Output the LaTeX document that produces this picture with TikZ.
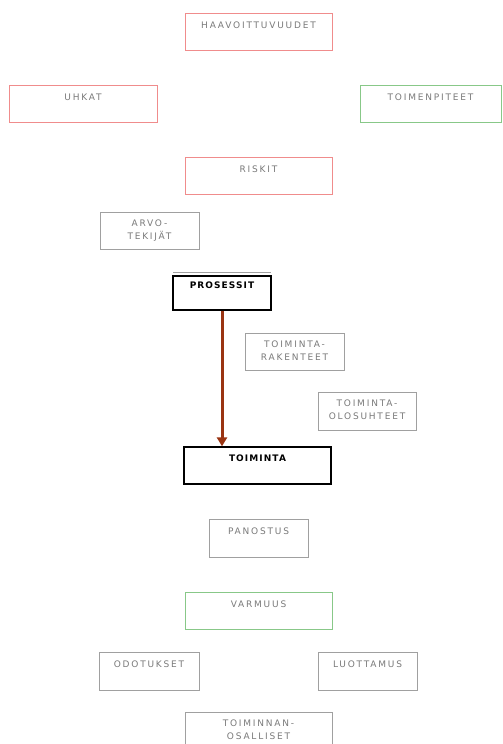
\documentclass[tikz,border=0pt]{standalone}
\usepackage{fontspec}
\setmainfont{DejaVu Sans}[LetterSpace=20]
\newfontfamily\boldf{DejaVu Sans}[LetterSpace=12]
\usetikzlibrary{arrows.meta,calc}
\definecolor{redb}{HTML}{F08C8C}
\definecolor{greenb}{HTML}{88C888}
\definecolor{greyb}{HTML}{A0A0A0}
\definecolor{txtg}{HTML}{7A7A7A}
\definecolor{arrowc}{HTML}{9A3412}
\tikzset{
  bx/.style={draw=#1, line width=0.9pt, rectangle, inner sep=0pt},
  bxk/.style={draw=black, line width=1.3pt, rectangle, inner sep=0pt},
  tx/.style={anchor=north, inner sep=0pt, align=center, text=txtg,
    font=\fontsize{9}{13}\selectfont},
  txb/.style={anchor=north, inner sep=0pt, align=center, text=black,
    font=\boldf\bfseries\fontsize{9}{13}\selectfont},
  conn/.style={draw=arrowc, line width=3pt, -{Triangle[length=9pt,width=10pt]}}
}
\begin{document}
\begin{tikzpicture}[x=1pt,y=-1pt]
\path[fill=white] (0,0) rectangle (503,744);
\useasboundingbox (0,0) rectangle (503,744);
% boxes: corners in pixels
\node[bx=redb, minimum width=147, minimum height=37] (haa) at (258.5,31.5) {};
\node[tx] (haat) at ($(haa.north)+(0,9)$) {HAAVOITTUVUUDET};
\node[bx=redb, minimum width=148, minimum height=37] (uhk) at (83,103.5) {};
\node[tx] (uhkt) at ($(uhk.north)+(0,9)$) {UHKAT};
\node[bx=greenb, minimum width=141, minimum height=37] (toi) at (430.5,103.5) {};
\node[tx] (toit) at ($(toi.north)+(0,9)$) {TOIMENPITEET};
\node[bx=redb, minimum width=147, minimum height=37] (ris) at (258.5,175.5) {};
\node[tx] (rist) at ($(ris.north)+(0,9)$) {RISKIT};
\node[bx=greyb, minimum width=99, minimum height=37] (arv) at (149.5,230.5) {};
\node[tx] (arvt) at ($(arv.north)+(0,8.5)$) {ARVO-\\TEKIJÄT};
% PROSESSIT with grey line above
\draw[greyb, line width=0.9pt] (173,272) -- (271,272);
\node[bxk, fill=white, minimum width=98, minimum height=34] (pro) at (222,293) {};
\node[txb] (prot) at ($(pro.north)+(0,6.5)$) {PROSESSIT};
\node[bx=greyb, minimum width=99, minimum height=37] (rak) at (294.5,351.5) {};
\node[tx] (rakt) at ($(rak.north)+(0,8.5)$) {TOIMINTA-\\RAKENTEET};
\node[bx=greyb, minimum width=98, minimum height=38] (olo) at (367,411) {};
\node[tx] (olot) at ($(olo.north)+(0,8.5)$) {TOIMINTA-\\OLOSUHTEET};
\node[bxk, fill=white, minimum width=147, minimum height=37] (tmi) at (257.5,465.5) {};
\node[txb] (tmit) at ($(tmi.north)+(0,8.5)$) {TOIMINTA};
\node[bx=greyb, minimum width=99, minimum height=38] (pan) at (258.5,538) {};
\node[tx] (pant) at ($(pan.north)+(0,9)$) {PANOSTUS};
\node[bx=greenb, minimum width=147, minimum height=37] (var) at (258.5,610.5) {};
\node[tx] (vart) at ($(var.north)+(0,9)$) {VARMUUS};
\node[bx=greyb, minimum width=100, minimum height=38] (odo) at (149,671) {};
\node[tx] (odot) at ($(odo.north)+(0,9)$) {ODOTUKSET};
\node[bx=greyb, minimum width=99, minimum height=38] (luo) at (367.5,671) {};
\node[tx] (luot) at ($(luo.north)+(0,9)$) {LUOTTAMUS};
\node[bx=greyb, minimum width=147, minimum height=37] (osa) at (258.5,730.5) {};
\node[tx] (osat) at ($(osa.north)+(0,8.5)$) {TOIMINNAN-\\OSALLISET};
% connector
\draw[conn] (pro.south) -- (pro.south |- tmi.north);
\end{tikzpicture}
\end{document}
